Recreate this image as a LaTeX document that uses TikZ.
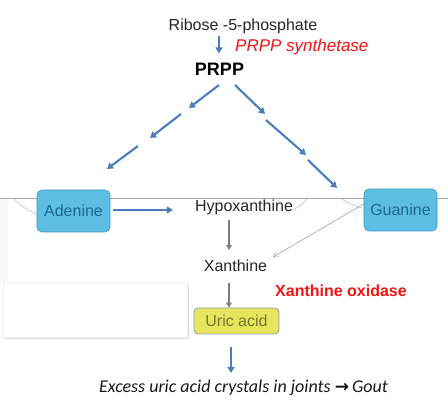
\documentclass[tikz,border=0pt]{standalone}
\usepackage{fontspec}
\setmainfont{Liberation Sans}
\newfontfamily\calib{Carlito}
\newfontfamily\djv{DejaVu Sans}
\usetikzlibrary{arrows.meta}
\definecolor{arrblue}{RGB}{74,126,187}
\definecolor{boxblue}{RGB}{92,190,226}
\definecolor{boxblueedge}{RGB}{62,150,196}
\definecolor{boxbluetext}{RGB}{28,104,146}
\definecolor{uricfill}{RGB}{229,229,94}
\definecolor{uricedge}{RGB}{140,156,180}
\definecolor{urictext}{RGB}{120,120,40}
\definecolor{enzred}{RGB}{240,20,20}
\definecolor{linegray}{RGB}{166,166,166}
\definecolor{arrgray}{RGB}{125,125,125}
\tikzset{
  lbl/.style={inner sep=0pt, font=\fontsize{16}{19}\selectfont, text=black!85},
  bluearrow/.style={draw=arrblue, line width=2.1pt, -{Triangle[length=6pt,width=7pt]}},
  grayarrow/.style={draw=arrgray, line width=1.3pt, -{Triangle[length=5pt,width=5.5pt]}},
  thinarrow/.style={draw=arrgray!80, line width=0.5pt, -{Straight Barb[length=5pt,width=6pt]}},
  faint/.style={draw=gray!55, line width=0.5pt},
  bluebox/.style={draw=boxblueedge, line width=0.6pt, fill=boxblue, rounded corners=5pt,
    minimum width=73pt, minimum height=42pt, inner sep=0pt, text=boxbluetext,
    font=\fontsize{16}{19}\selectfont},
  uricbox/.style={draw=uricedge, line width=0.8pt, fill=uricfill, rounded corners=4pt,
    minimum width=85pt, minimum height=26pt, inner sep=0pt, text=urictext,
    font=\fontsize{16}{19}\selectfont}
}
\begin{document}
\begin{tikzpicture}[x=1pt,y=-1pt]
\useasboundingbox (0,0) rectangle (448,401);
\fill[white] (0,0) rectangle (448,401);
% background bits
\fill[gray!5] (0,199) rectangle (8,283);
\fill[gray!25] (4.5,284.5) rectangle (188.5,339);
\fill[white] (3,283) rectangle (187,337);
\draw[gray!12, line width=0.4pt] (3,283) rectangle (187,337);
\draw[linegray, line width=0.9pt] (0,198.5) -- (448,198.5);
\draw[faint] (13,198) .. controls (22,207) and (30,212) .. (37,214);
\draw[faint] (293,210) .. controls (300,206) and (304,203) .. (307,199);
\draw[faint] (340,198) .. controls (348,203) and (355,206) .. (362,208);

% text nodes
\node[lbl, anchor=base] (ribose) at (243,31) {Ribose -5-phosphate};
\node[inner sep=0pt, anchor=base west, text=enzred, font=\fontsize{17}{20}\selectfont\itshape] (synth) at (235,52) {PRPP synthetase};
\node[inner sep=0pt, anchor=base, font=\fontsize{18}{21}\selectfont\bfseries] (prpp) at (219.5,76) {PRPP};
\node[lbl, anchor=base] (hypo) at (244,212) {Hypoxanthine};
\node[lbl, anchor=base] (xan) at (235.5,271.5) {Xanthine};
\node[inner sep=0pt, anchor=base west, text=enzred, font=\fontsize{16}{19}\selectfont\bfseries] (xo) at (275,297) {Xanthine oxidase};
\node[inner sep=0pt, anchor=base, font=\fontsize{18}{21}\selectfont\calib\itshape, text=black!90] (gout) at (243.5,392.5) {Excess uric acid crystals in joints {\djv\upshape\bfseries\fontsize{17}{20}\selectfont →}\,Gout};

% boxes
\node[bluebox] (adenine) at (73.5,211) {Adenine};
\node[bluebox] (guanine) at (400.5,210) {Guanine};
\node[uricbox] (uric) at (236.5,321) {Uric acid};

% connector coordinates
\coordinate (rp) at (219,36);
\coordinate (l0) at (219,85);
\coordinate (l1) at (189,108);
\coordinate (l2) at (181,114);
\coordinate (l3) at (150,138);
\coordinate (l4) at (138,146);
\coordinate (l5) at (107,169);
\coordinate (r0) at (235,85);
\coordinate (r1) at (265,114);
\coordinate (r2) at (266,120);
\coordinate (r3) at (306,155);
\coordinate (r4) at (308,160);
\coordinate (r5) at (337,188);
\coordinate (hx) at (229,220);
\coordinate (xu) at (229,283);
\coordinate (ug) at (231,347);
\coordinate (gx) at (273,257);

\draw[bluearrow, shorten >=10pt] (rp) -- (rp |- prpp.north);
\draw[bluearrow] (l0) -- (l1);
\draw[bluearrow] (l2) -- (l3);
\draw[bluearrow] (l4) -- (l5);
\draw[bluearrow] (r0) -- (r1);
\draw[bluearrow] (r2) -- (r3);
\draw[bluearrow] (r4) -- (r5);
\draw[bluearrow, shorten <=3pt, shorten >=22pt] ([yshift=1pt]adenine.east) -- ([yshift=1pt]adenine.east -| hypo.west);
\draw[grayarrow] (hx) -- (hx |- 0,250);
\draw[thinarrow] ([yshift=6pt]guanine.west) -- (gx);
\draw[grayarrow] (xu) -- (xu |- uric.north);
\draw[bluearrow] (ug) -- (ug |- 0,373);
\end{tikzpicture}
\end{document}
